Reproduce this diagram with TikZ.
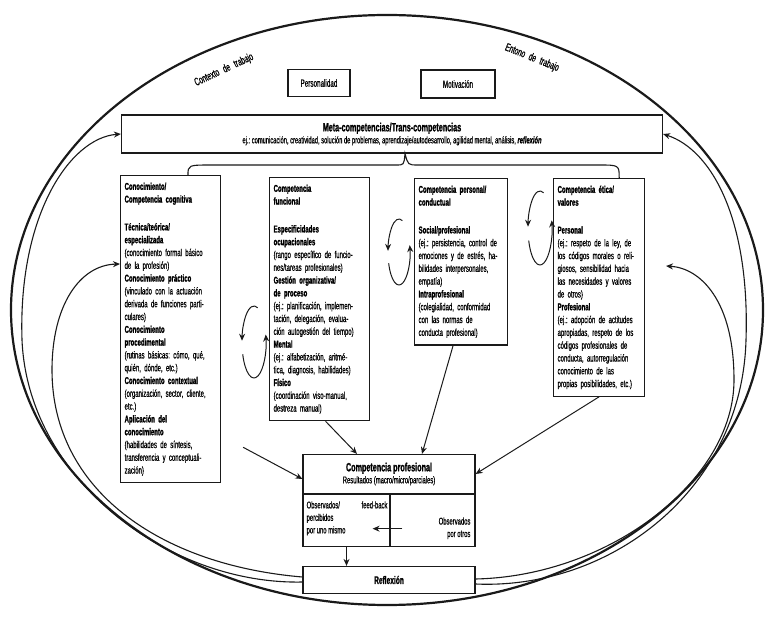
\documentclass[tikz,border=0pt]{standalone}
\usepackage{fontspec}
\setmainfont{Liberation Sans}[FakeStretch=0.6, UprightFeatures={FakeBold=0.6}, BoldFeatures={FakeBold=1.2}, ItalicFeatures={FakeBold=0.6}, BoldItalicFeatures={FakeBold=1.2}]
\usetikzlibrary{arrows.meta,calc}
\definecolor{ink}{HTML}{1A1A1A}
\tikzset{
  box/.style={draw=ink, line width=1.2pt, rectangle, inner sep=0pt, text=black},
  txtbox/.style={draw=ink, line width=1.2pt, rectangle, anchor=north west, align=left,
    inner xsep=4pt, inner ysep=7pt, font=\fontsize{10}{12.8}\selectfont, text=black},
  plain/.style={inner sep=0pt, text=black},
  arr/.style={draw=ink, line width=1pt, -{Stealth[length=7pt,width=6pt]}},
  curve/.style={draw=ink, line width=1.1pt, -{Stealth[length=7pt,width=6pt]}},
}
\frenchspacing
\begin{document}
\begin{tikzpicture}[x=1pt,y=-1pt]
\useasboundingbox[fill=white] (0,0) rectangle (771,617);

% outer ellipse
\draw[ink, line width=2.2pt] (387,310) ellipse [x radius=376, y radius=295];

\node[plain, rotate=25, font=\fontsize{11}{12}\selectfont] (ctx) at (224,70) {Contexto\hspace{3pt} de\hspace{3pt} trabajo};
\node[plain, rotate=-22, font=\fontsize{11}{12}\selectfont] (ent) at (532,58) {Entono\hspace{2.5pt} de\hspace{2.5pt} trabajo};

\node[box, minimum width=62pt, minimum height=27pt, font=\fontsize{10.5}{11}\selectfont] (pers) at (319,83) {Personalidad};
\node[box, minimum width=74pt, minimum height=28pt, font=\fontsize{10.5}{11}\selectfont] (moti) at (458,84) {Motivación};

\node[box, minimum width=541pt, minimum height=38pt, align=center] (meta) at (392,134)
 {{\bfseries\fontsize{12}{14}\selectfont Meta-competencias/Trans-competencias}\\
  {\fontsize{9.6}{10.5}\selectfont ej.: comunicación, creatividad, solución de problemas, aprendizaje/autodesarrollo, agilidad mental, análisis, \textbf{\textit{reflexión}}}};

% four boxes
\node[txtbox, text width=92pt, minimum height=307pt] (b1) at (120,175)
{\textbf{Conocimiento/}\\ \textbf{Competencia cognitiva}\\[15pt]
 \textbf{Técnica/teórica/}\\ \textbf{especializada}\\
 (conocimiento formal básico\\ de la profesión)\\
 \textbf{Conocimiento práctico}\\ (vinculado con la actuación\\ derivada de funciones parti-\\ culares)\\
 \textbf{Conocimiento}\\ \textbf{procedimental}\\ (rutinas básicas: cómo, qué,\\ quién, dónde, etc.)\\
 \textbf{Conocimiento contextual}\\ (organización, sector, cliente,\\ etc.)\\
 \textbf{Aplicación del}\\ \textbf{conocimiento}\\ (habilidades de síntesis,\\ transferencia y conceptuali-\\ zación)};

\node[txtbox, text width=92pt, minimum height=242pt] (b2) at (269,177)
{\textbf{Competencia}\\ \textbf{funcional}\\[15pt]
 \textbf{Especificidades}\\ \textbf{ocupacionales}\\
 (rango específico de funcio-\\ nes/tareas profesionales)\\
 \textbf{Gestión organizativa/}\\ \textbf{de proceso}\\
 (ej.: planificación, implemen-\\ tación, delegación, evalua-\\ ción autogestión del tiempo)\\
 \textbf{Mental}\\ (ej.: alfabetización, aritmé-\\ tica, diagnosis, habilidades)\\
 \textbf{Físico}\\ (coordinación viso-manual,\\ destreza manual)};

\node[txtbox, text width=85pt, minimum height=165pt] (b3) at (414,178)
{\textbf{Competencia personal/}\\ \textbf{conductual}\\[15pt]
 \textbf{Social/profesional}\\ (ej.: persistencia, control de\\ emociones y de estrés, ha-\\ bilidades interpersonales,\\ empatía)\\
 \textbf{Intraprofesional}\\ (colegialidad, conformidad\\ con las normas de\\ conducta profesional)};

\node[txtbox, text width=83pt, minimum height=217pt] (b4) at (553,178)
{\textbf{Competencia ética/}\\ \textbf{valores}\\[15pt]
 \textbf{Personal}\\ (ej.: respeto de la ley, de\\ los códigos morales o reli-\\ giosos, sensibilidad hacia\\ las necesidades y valores\\ de otros)\\
 \textbf{Profesional}\\ (ej.: adopción de actitudes\\ apropiadas, respeto de los\\ códigos profesionales de\\ conducta, autorregulación\\ conocimiento de las\\ propias posibilidades, etc.)};

% brace under meta box
\draw[ink, line width=1.1pt] ($(b1.north west)+(68,0)$) .. controls ($(b1.north west)+(68,-10)$) .. ($(b1.north west)+(93,-10)$)
  -- (396,165) .. controls (404,165) .. ($(meta.south)+(13,0)$)
  .. controls (408,165) .. (418,165) -- (598,165) .. controls ($(b4.north east)+(-26,-13)$) .. ($(b4.north east)+(-26,0)$);

% cycle arrows
\foreach \cx/\cy/\rx/\ry/\nm in {254/342/12/36/cA, 399/252/11/33/cB, 540/228/12/37/cC}{
  \coordinate (\nm) at (\cx,\cy);
  \draw[curve, line width=1pt] ($(\nm)+({\rx*cos(-72)},{\ry*sin(-72)})$) arc[start angle=-72, end angle=-178, x radius=\rx, y radius=\ry];
  \draw[curve, line width=1pt] ($(\nm)+({\rx*cos(-200)},{\ry*sin(-200)})$) arc[start angle=-200, end angle=-372, x radius=\rx, y radius=\ry];
}

% competencia profesional
\node[box, minimum width=172pt, minimum height=39pt, align=center] (cp) at (389,474)
 {{\bfseries\fontsize{12}{14}\selectfont Competencia profesional}\\
  {\fontsize{9.8}{11}\selectfont Resultados (macro/micro/parciales)}};
\node[box, minimum width=87pt, minimum height=52pt, anchor=north west] (self) at (cp.south west) {};
\node[box, minimum width=85pt, minimum height=52pt, anchor=north east] (others) at (cp.south east) {};
\node[plain, anchor=north west, align=left, font=\fontsize{9.8}{12.5}\selectfont] (selft) at ($(self.north west)+(4,7)$)
 {Observados/\\ percibidos\\ por uno mismo};
\node[plain, anchor=north east, font=\fontsize{9.8}{12.5}\selectfont] (fb) at ($(self.north east)+(-3,7)$) {feed-back};
\node[plain, anchor=south east, align=right, font=\fontsize{9.8}{12.5}\selectfont] (otht) at ($(others.south east)+(-5,-8)$)
 {Observados\\ por otros};
\coordinate (fbs) at ($(others.west)+(13,8)$);
\coordinate (fbe) at ($(self.east)+(-18,8)$);
\draw[arr] (fbs) -- (fbe);

% reflexion
\node[box, minimum width=172pt, minimum height=27pt, font=\fontsize{11}{12}\selectfont] (refl) at (389,580) {\textbf{Reflexión}};
\draw[arr] (self.south) -- (self.south |- refl.north);

% arrows into competencia profesional
\coordinate (b1o) at ($(b1.south east)+(22,-36)$);
\draw[arr] (b1o) -- ($(cp.west)+(0,5)$);
\draw[arr] ($(b2.south)+(6,0)$) -- ($(cp.north)+(-32,0)$);
\draw[arr] ($(b3.south)+(-8,0)$) -- ($(cp.north)+(33,0)$);
\draw[arr] (b4.south) -- (cp.east);

% big return curves
\draw[curve] ($(refl.west)+(0,2)$) .. controls (170,585) and (28,480) .. (22,340)
   .. controls (18,215) and (70,138) .. (meta.west);
\draw[curve] ($(refl.west)+(0,-3)$) .. controls (160,565) and (52,490) .. (52,370)
   .. controls (52,305) and (80,265) .. ($(b1.north west)+(0,89)$);
\draw[curve] ($(refl.east)+(0,4)$) .. controls (610,590) and (742,490) .. (746,340)
   .. controls (750,220) and (712,150) .. (meta.east);
\coordinate (r4) at (666,266);
\draw[curve] ($(refl.east)+(0,-1)$) .. controls (610,576) and (734,480) .. (734,380)
   .. controls (734,300) and (700,268) .. (r4);
\end{tikzpicture}
\end{document}
